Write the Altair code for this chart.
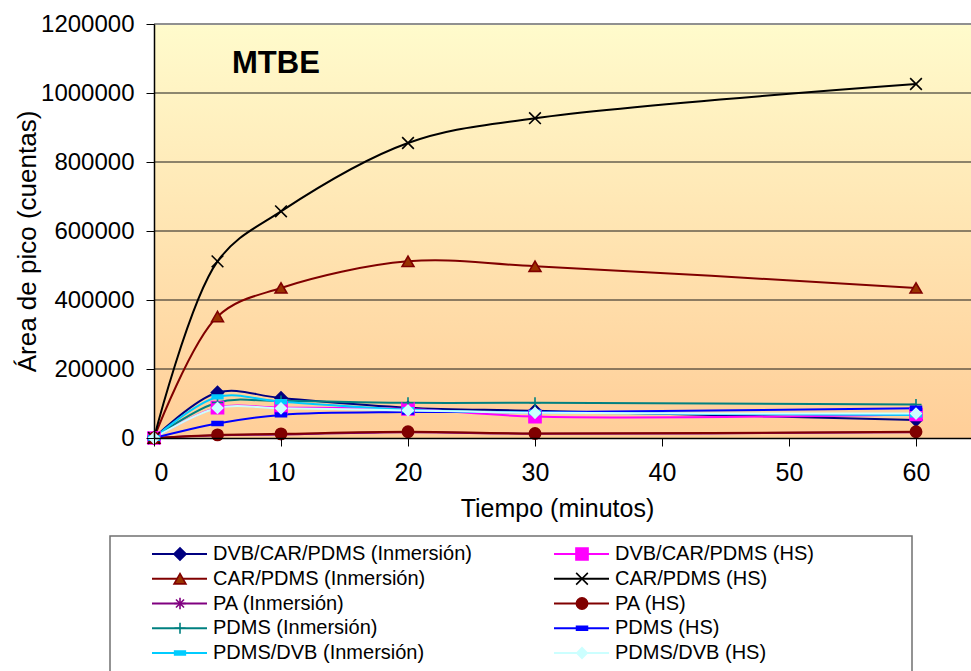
import altair as alt
import pandas as pd

# ---------------- data ----------------
time_min = [0, 5, 10, 20, 30, 60]

series_names = [
    "DVB/CAR/PDMS (Inmersión)", "DVB/CAR/PDMS (HS)",
    "CAR/PDMS (Inmersión)", "CAR/PDMS (HS)",
    "PA (Inmersión)", "PA (HS)",
    "PDMS (Inmersión)", "PDMS (HS)",
    "PDMS/DVB (Inmersión)", "PDMS/DVB (HS)",
]

dvb_car_pdms_inm = [0, 132000, 116000, 88000, 79000, 52000]
dvb_car_pdms_hs = [0, 88000, 88000, 84000, 62000, 68000]
car_pdms_inm = [0, 352000, 435000, 512000, 498000, 435000]
car_pdms_hs = [0, 512000, 657000, 855000, 927000, 1026000]
pa_inm = [0, 8000, 10000, 17000, 12000, 17000]
pa_hs = [0, 9000, 12000, 18000, 13000, 18000]
pdms_inm = [0, 103000, 107000, 102000, 102000, 97000]
pdms_hs = [0, 42000, 67000, 75000, 75000, 86000]
pdms_dvb_inm = [0, 119000, 105000, 82000, 74000, 67000]
pdms_dvb_hs = [0, 87000, 86000, 80000, 73000, 71000]

all_values = [dvb_car_pdms_inm, dvb_car_pdms_hs, car_pdms_inm, car_pdms_hs,
              pa_inm, pa_hs, pdms_inm, pdms_hs, pdms_dvb_inm, pdms_dvb_hs]

y_ticks = [0, 200000, 400000, 600000, 800000, 1000000, 1200000]
x_ticks = [0, 10, 20, 30, 40, 50, 60]

# ---------------- styles ----------------
ASTERISK = "M-1,0L1,0M0,-1L0,1M-0.7,-0.7L0.7,0.7M-0.7,0.7L0.7,-0.7"
CROSS = "M-1,-1L1,1M-1,1L1,-1"
PLUS = "M-1,0L1,0M0,-1L0,1"
DASH = "M-1,-0.35L1,-0.35L1,0.35L-1,0.35Z"

line_colors = ["#000080", "#FF00FF", "#800000", "#000000", "#800080",
               "#800000", "#008080", "#0000FF", "#00CCFF", "#CCFFFF"]
fill_colors = ["#000080", "#FF00FF", "#993300", "transparent", "transparent",
               "#800000", "transparent", "#0000FF", "#00CCFF", "#CCFFFF"]
shapes = ["diamond", "square", "triangle-up", CROSS, ASTERISK,
          "circle", PLUS, DASH, DASH, "diamond"]
sizes = [150, 110, 150, 190, 230, 130, 200, 70, 150, 170]

rows = []
for name, vals in zip(series_names, all_values):
    for t, v in zip(time_min, vals):
        rows.append({"series": name, "t": t, "v": v})
df = pd.DataFrame(rows)

leg = pd.DataFrame({
    "series": series_names,
    "row": [i // 2 for i in range(len(series_names))],
    "col": [i % 2 for i in range(len(series_names))],
})

W, H = 817, 414
FONT = "Liberation Sans"

stroke_scale = alt.Scale(domain=series_names, range=line_colors)
fill_scale = alt.Scale(domain=series_names, range=fill_colors)
shape_scale = alt.Scale(domain=series_names, range=shapes)
size_scale = alt.Scale(domain=series_names, range=sizes)

xs = alt.Scale(domain=[0, W / 12.7], nice=False, zero=False)
ys = alt.Scale(domain=[0, 1200000], nice=False)

one = pd.DataFrame({"a": [0]})

bg = alt.Chart(one).mark_rect(
    fill=alt.Gradient(
        gradient="linear", x1=0, y1=0, x2=0, y2=1,
        stops=[alt.GradientStop(offset=0, color="#FFFBCC"),
               alt.GradientStop(offset=1, color="#FFCE98")],
    )
).encode(x=alt.value(0), x2=alt.value(W), y=alt.value(0), y2=alt.value(H))

grid = alt.Chart(pd.DataFrame({"g": y_ticks[1:-1]})).mark_rule(
    color="#1a1a1a", strokeWidth=1
).encode(y=alt.Y("g:Q", scale=ys))

topline = alt.Chart(pd.DataFrame({"g": y_ticks[-1:]})).mark_rule(
    color="#909090", strokeWidth=2
).encode(y=alt.Y("g:Q", scale=ys))

x_enc = alt.X(
    "t:Q", scale=xs,
    axis=alt.Axis(values=x_ticks, title="Tiempo (minutos)", grid=False,
                  tickSize=8, labelPadding=14, labelFontSize=25,
                  titleFontSize=25, titleX=403, titleY=78,
                  titleBaseline="alphabetic", titleAlign="center",
                  domainColor="#000", domainWidth=1.5, tickColor="#000", zindex=1,
                  labelFont=FONT, titleFont=FONT, titleFontWeight="normal",
                  labelColor="#000", titleColor="#000"),
)
y_enc = alt.Y(
    "v:Q", scale=ys,
    axis=alt.Axis(values=y_ticks, format="d", title="Área de pico (cuentas)",
                  grid=False, tickSize=8, labelPadding=12, labelFontSize=24,
                  titleFontSize=26, titleX=-119, titleY=217,
                  titleBaseline="alphabetic", titleAlign="center",
                  domainColor="#000", domainWidth=1.5, tickColor="#000", zindex=1,
                  labelFont=FONT, titleFont=FONT, titleFontWeight="normal",
                  labelColor="#000", titleColor="#000"),
)

base = alt.Chart(df)
lines = base.mark_line(interpolate="catmull-rom", strokeWidth=2).encode(
    x=x_enc, y=y_enc,
    stroke=alt.Stroke("series:N", scale=stroke_scale, legend=None, sort=series_names),
    detail="series:N",
)
points = base.mark_point(opacity=1, strokeWidth=1.6).encode(
    x=x_enc, y=y_enc,
    stroke=alt.Stroke("series:N", scale=stroke_scale, legend=None),
    fill=alt.Fill("series:N", scale=fill_scale, legend=None),
    shape=alt.Shape("series:N", scale=shape_scale, legend=None),
    size=alt.Size("series:N", scale=size_scale, legend=None),
)

label = alt.Chart(one).mark_text(
    text="MTBE", font=FONT, fontSize=31, fontWeight="bold",
    align="left", baseline="alphabetic", color="#000"
).encode(x=alt.value(78), y=alt.value(49))

main = alt.layer(bg, grid, topline, lines, points, label)

# ---------------- legend ----------------
lx = alt.X("col:Q", scale=alt.Scale(domain=[0, 1], range=[0, 402]), axis=None)
ly = alt.Y("row:Q", scale=alt.Scale(domain=[0, 4], range=[530, 629]), axis=None)

box = alt.Chart(one).mark_rect(
    fill="white", stroke="#707070", strokeWidth=1.5
).encode(x=alt.value(-44), x2=alt.value(758), y=alt.value(512), y2=alt.value(760))

lbase = alt.Chart(leg)
leg_lines = lbase.mark_rule(strokeWidth=2, xOffset=-2, x2Offset=53).encode(
    x=lx, x2="col:Q", y=ly,
    stroke=alt.Stroke("series:N", scale=stroke_scale, legend=None),
)
leg_points = lbase.mark_point(opacity=1, strokeWidth=1.6, xOffset=26).encode(
    x=lx, y=ly,
    stroke=alt.Stroke("series:N", scale=stroke_scale, legend=None),
    fill=alt.Fill("series:N", scale=fill_scale, legend=None),
    shape=alt.Shape("series:N", scale=shape_scale, legend=None),
    size=alt.Size("series:N", scale=size_scale, legend=None),
)
leg_text = lbase.mark_text(
    align="left", baseline="middle", dx=59, font=FONT,
    fontSize=20, color="#000"
).encode(x=lx, y=ly, text="series:N")

legend = alt.layer(box, leg_lines, leg_points, leg_text)

chart = alt.layer(main, legend).resolve_scale(
    x="independent", y="independent"
).properties(
    width=W, height=H,
    padding={"left": 154, "top": 24, "right": 0, "bottom": 233},
    autosize=alt.AutoSizeParams(type="none"),
    background="white",
).configure_view(stroke=None)

chart.save("out.html", embed_options={"renderer": "svg", "actions": False})
